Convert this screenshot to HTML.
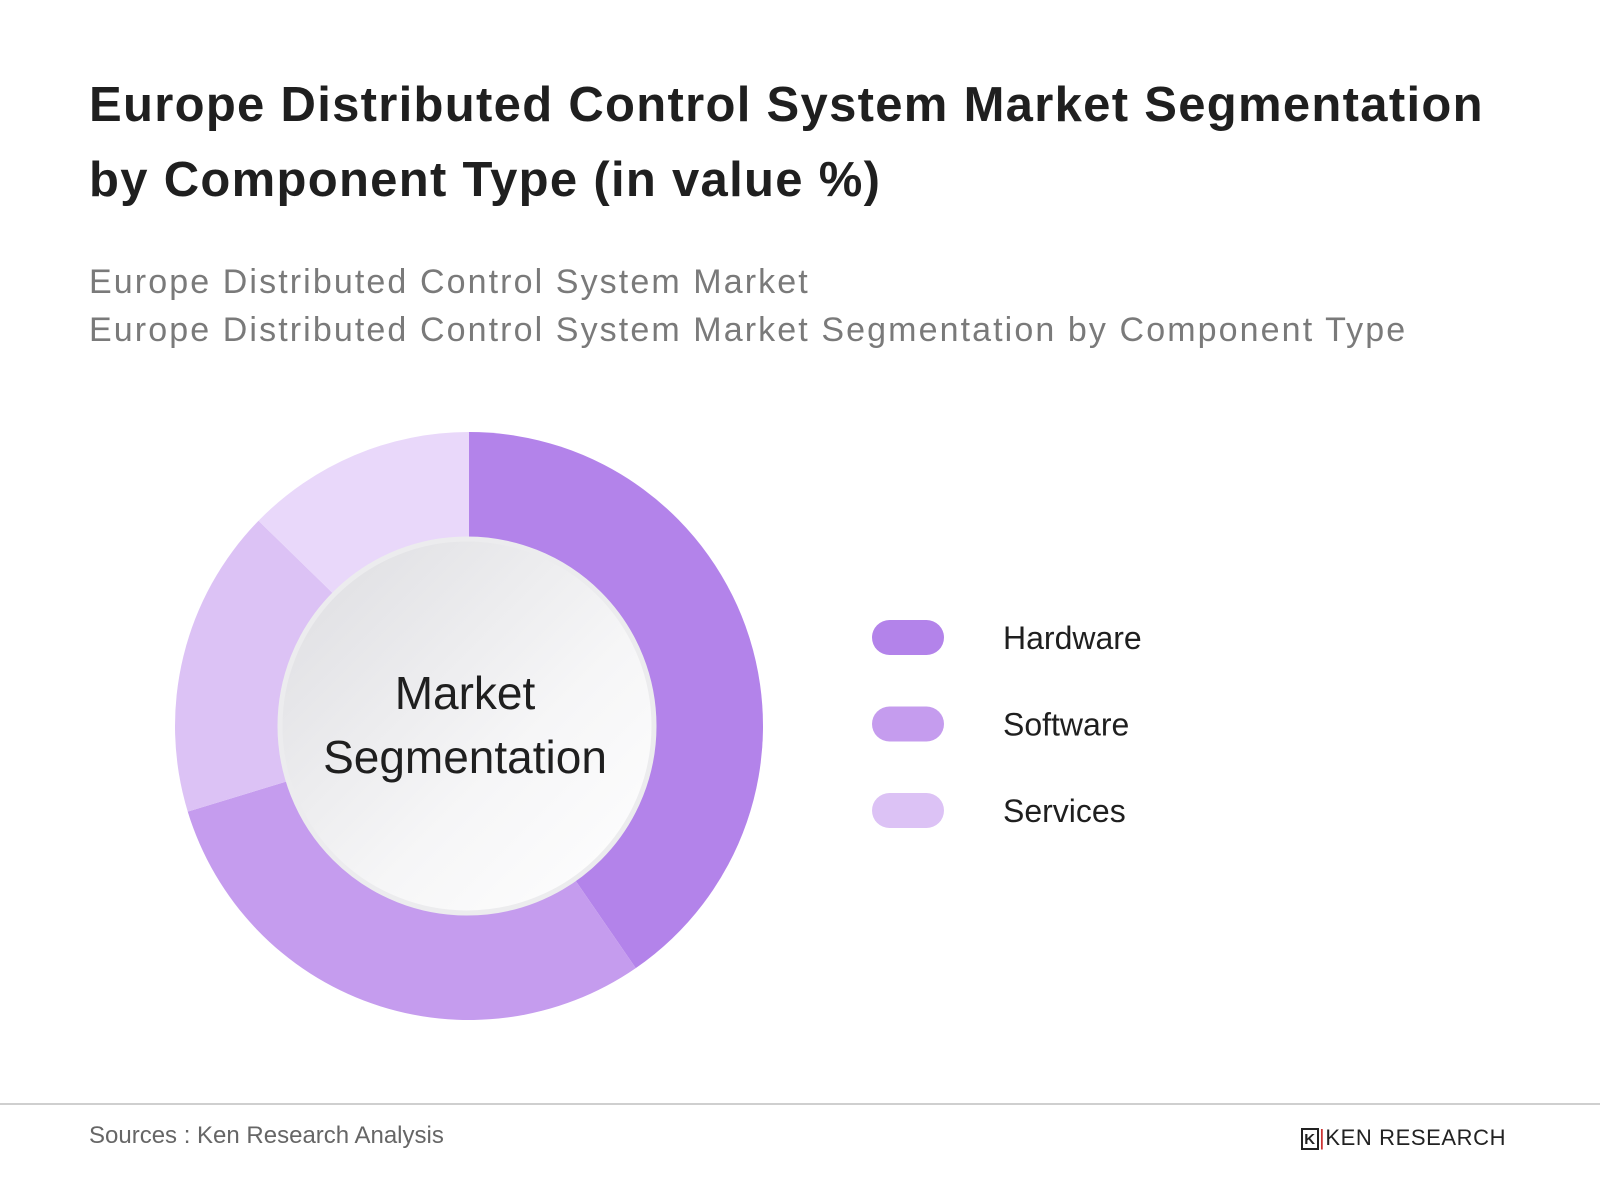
<!DOCTYPE html>
<html><head><meta charset="utf-8"><style>
body{margin:0;width:1600px;height:1200px;background:#fff;font-family:"Liberation Sans",sans-serif;overflow:hidden;position:relative}
.t{position:absolute;white-space:nowrap}
</style></head><body>
<div class="t" style="left:89px;top:68px;font-size:49px;font-weight:bold;color:#1f1f1f;line-height:75px;letter-spacing:1.3px">Europe Distributed Control System Market Segmentation<br>by Component Type (in value %)</div>
<div class="t" style="left:89px;top:258px;font-size:34px;color:#7a7a7a;line-height:48px;letter-spacing:2.1px">Europe Distributed Control System Market<br>Europe Distributed Control System Market Segmentation by Component Type</div>
<svg id="chart" width="1600" height="1200" style="position:absolute;left:0;top:0">
<defs><linearGradient id="g" x1="0" y1="0" x2="1" y2="1"><stop offset="0" stop-color="#dcdce0"/><stop offset="0.6" stop-color="#f6f6f7"/><stop offset="1" stop-color="#fff"/></linearGradient></defs>
</svg>
<div style="position:absolute;left:0;top:1103px;width:1600px;height:2px;background:#cfcfcf"></div>
<div class="t" style="left:89px;top:1122px;font-size:24px;color:#666">Sources : Ken Research Analysis</div>
<div class="t" style="left:1301px;top:1125px;font-size:22px;color:#222;letter-spacing:0.6px"><span style="display:inline-block;width:18px;height:22px;border:2px solid #222;font-size:15px;line-height:20px;text-align:center;vertical-align:middle;box-sizing:border-box;font-weight:bold">K</span><span style="color:#c33">|</span>KEN RESEARCH</div>
<script>
const categories=["Hardware","Software","Services","Other"];
const values=[40.4,29.9,17,12.7];
const colors=["#b383ea","#c59cee","#dcc2f5","#e9d8fa"];
const legendItems=["Hardware","Software","Services"];
const NS="http://www.w3.org/2000/svg";
const svg=document.getElementById('chart');
const cx=469,cy=726,R=294,r=187;
const total=values.reduce((a,b)=>a+b,0);
function pt(a,rad){return [cx+rad*Math.sin(a),cy-rad*Math.cos(a)];}
let a0=0;
values.forEach((v,i)=>{
 const a1=a0+v/total*2*Math.PI;
 const [x0,y0]=pt(a0,R),[x1,y1]=pt(a1,R);
 const lg=(a1-a0)>Math.PI?1:0;
 const p=document.createElementNS(NS,'path');
 p.setAttribute('d',`M${cx},${cy}L${x0},${y0}A${R},${R} 0 ${lg} 1 ${x1},${y1}Z`);
 p.setAttribute('fill',colors[i]);
 
 
 svg.appendChild(p);
 a0=a1;
});
const c=document.createElementNS(NS,'circle');
c.setAttribute('cx',cx-2);c.setAttribute('cy',cy);c.setAttribute('r',r);
c.setAttribute('fill','url(#g)');c.setAttribute('stroke','#ececee');c.setAttribute('stroke-width','5');


svg.appendChild(c);
[["Market",709],["Segmentation",773]].forEach(([s,y])=>{
 const t=document.createElementNS(NS,'text');
 t.setAttribute('x',cx-4);t.setAttribute('y',y);t.setAttribute('text-anchor','middle');
 t.setAttribute('font-size','46');t.setAttribute('fill','#1f1f1f');t.setAttribute('font-family','Liberation Sans, sans-serif');
 t.textContent=s;
 
 
 svg.appendChild(t);
});
legendItems.forEach((s,i)=>{
 const y=620+i*86.5;
 const rc=document.createElementNS(NS,'rect');
 rc.setAttribute('x',872);rc.setAttribute('y',y);rc.setAttribute('width',72);rc.setAttribute('height',35);rc.setAttribute('rx',17.5);
 rc.setAttribute('fill',colors[i]);
 
 
 svg.appendChild(rc);
 const t=document.createElementNS(NS,'text');
 t.setAttribute('x',1003);t.setAttribute('y',y+29);t.setAttribute('font-size','32');t.setAttribute('fill','#1f1f1f');t.setAttribute('font-family','Liberation Sans, sans-serif');
 t.textContent=s;
 
 
 svg.appendChild(t);
});
</script>
</body></html>
